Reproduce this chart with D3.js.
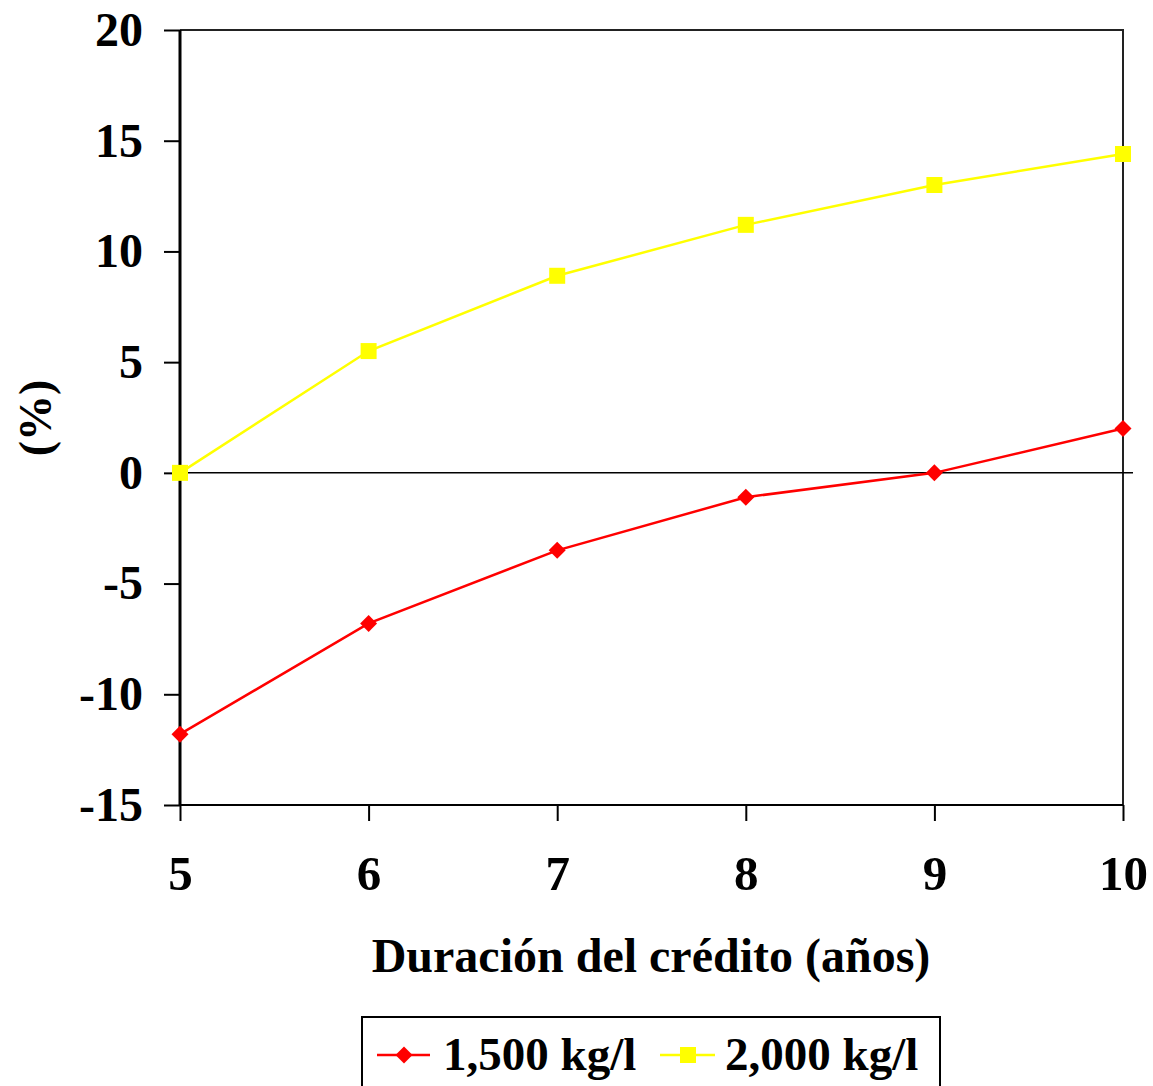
<!DOCTYPE html>
<html>
<head>
<meta charset="utf-8">
<script src="https://cdn.jsdelivr.net/npm/d3@7"></script>
<style>
  body { margin: 0; background: #fff; }
  svg text { font-family: 'Liberation Serif', 'Times New Roman', serif; font-weight: bold; }
</style>
</head>
<body>
<svg id="chart" width="1153" height="1086"></svg>
<script>
// data
var years = [5, 6, 7, 8, 9, 10];
var serie1500 = [-11.8, -6.8, -3.5, -1.1, 0, 2.0];
var serie2000 = [0, 5.5, 8.9, 11.2, 13.0, 14.4];
var yTicks = [-15, -10, -5, 0, 5, 10, 15, 20];
var seriesNames = ['1,500 kg/l', '2,000 kg/l'];

var svg = d3.select('#chart');

var plotLeft = 180, plotRight = 1123, plotTop = 30, plotBottom = 805;

var x = d3.scaleLinear().domain([5, 10]).range([plotLeft, plotRight]);
var y = d3.scaleLinear().domain([-15, 20]).range([plotBottom, plotTop]);

// frame (top + right)
svg.append('path')
  .attr('d', 'M' + plotLeft + ',' + plotTop + 'H' + plotRight + 'V' + plotBottom)
  .attr('fill', 'none')
  .attr('stroke', '#222')
  .attr('stroke-width', 2);

// zero line
svg.append('line')
  .attr('x1', plotLeft).attr('x2', plotRight + 10)
  .attr('y1', y(0)).attr('y2', y(0))
  .attr('stroke', '#000').attr('stroke-width', 1.5);

// y axis (plain hyphen for negatives, like the original)
var yAxis = svg.append('g')
  .attr('transform', 'translate(' + plotLeft + ',0)')
  .call(d3.axisLeft(y).tickValues(yTicks).tickSize(16).tickPadding(21)
    .tickFormat(function(d) { return String(d); }));
yAxis.select('.domain').attr('stroke-width', 3).attr('d', 'M0,' + plotBottom + 'V' + plotTop);
yAxis.selectAll('.tick line').attr('stroke-width', 2);
yAxis.selectAll('.tick text')
  .style('font-size', '48px')
  .style('font-family', "'Liberation Serif', serif")
  .style('font-weight', 'bold')
  .attr('fill', '#000');

// x axis
var xAxis = svg.append('g')
  .attr('transform', 'translate(0,' + plotBottom + ')')
  .call(d3.axisBottom(x).tickValues(years).tickSize(16).tickPadding(34)
    .tickFormat(function(d) { return String(d); }));
xAxis.select('.domain').attr('stroke-width', 2).attr('d', 'M' + plotLeft + ',0H' + plotRight);
xAxis.selectAll('.tick line').attr('stroke-width', 2);
xAxis.selectAll('.tick text')
  .style('font-size', '49px')
  .style('font-family', "'Liberation Serif', serif")
  .style('font-weight', 'bold')
  .attr('fill', '#000');

// titles
svg.append('text')
  .attr('x', 651).attr('y', 972)
  .attr('text-anchor', 'middle')
  .style('font-size', '48px')
  .text('Duración del crédito (años)');

svg.append('text')
  .attr('transform', 'translate(51,418) rotate(-90)')
  .attr('text-anchor', 'middle')
  .style('font-size', '46px')
  .text('(%)');

// lines
var line = d3.line()
  .x(function(d, i) { return x(years[i]); })
  .y(function(d) { return y(d); });

svg.append('path')
  .datum(serie2000)
  .attr('d', line)
  .attr('fill', 'none')
  .attr('stroke', '#ffff00')
  .attr('stroke-width', 2.5);

svg.append('path')
  .datum(serie1500)
  .attr('d', line)
  .attr('fill', 'none')
  .attr('stroke', '#ff0000')
  .attr('stroke-width', 2.5);

svg.selectAll('.sq')
  .data(serie2000)
  .enter()
  .append('rect')
  .attr('class', 'sq')
  .attr('x', function(d, i) { return x(years[i]) - 8; })
  .attr('y', function(d) { return y(d) - 8; })
  .attr('width', 16).attr('height', 16)
  .attr('fill', '#ffff00');

svg.selectAll('.dm')
  .data(serie1500)
  .enter()
  .append('rect')
  .attr('class', 'dm')
  .attr('width', 12).attr('height', 12)
  .attr('x', -6).attr('y', -6)
  .attr('transform', function(d, i) { return 'translate(' + x(years[i]) + ',' + y(d) + ') rotate(45)'; })
  .attr('fill', '#ff0000');

// legend
var legend = svg.append('g');
legend.append('rect')
  .attr('x', 362).attr('y', 1017)
  .attr('width', 578).attr('height', 90)
  .attr('fill', '#fff')
  .attr('stroke', '#000')
  .attr('stroke-width', 2);

legend.append('line')
  .attr('x1', 377).attr('x2', 430).attr('y1', 1055).attr('y2', 1055)
  .attr('stroke', '#ff0000').attr('stroke-width', 2.5);
legend.append('rect')
  .attr('width', 12).attr('height', 12).attr('x', -6).attr('y', -6)
  .attr('transform', 'translate(404,1055) rotate(45)')
  .attr('fill', '#ff0000');
legend.append('text')
  .attr('x', 443).attr('y', 1070)
  .style('font-size', '47px')
  .text(seriesNames[0]);

legend.append('line')
  .attr('x1', 660).attr('x2', 715).attr('y1', 1055).attr('y2', 1055)
  .attr('stroke', '#ffff00').attr('stroke-width', 2.5);
legend.append('rect')
  .attr('x', 680).attr('y', 1047).attr('width', 16).attr('height', 16)
  .attr('fill', '#ffff00');
legend.append('text')
  .attr('x', 725).attr('y', 1070)
  .style('font-size', '47px')
  .text(seriesNames[1]);
</script>
</body>
</html>
